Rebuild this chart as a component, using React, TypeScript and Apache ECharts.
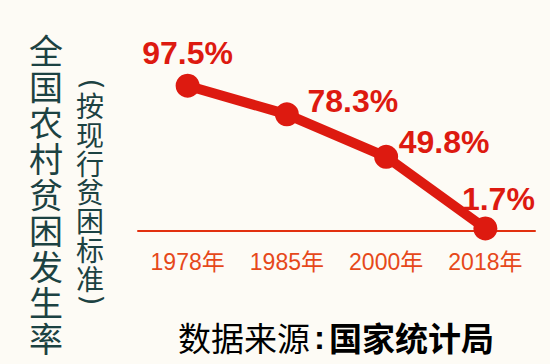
import React, { useEffect, useRef } from "react";
import * as echarts from "echarts";

const years = ["1978年", "1985年", "2000年", "2018年"];
const rates = [97.5, 78.3, 49.8, 1.7];
const rateLabels = ["97.5%", "78.3%", "49.8%", "1.7%"];
const labelOffsets = [
  [0, -33],
  [66, -13],
  [58, -15],
  [13, -29],
];
const titleChars = ["全", "国", "农", "村", "贫", "困", "发", "生", "率"];
const subtitleChars = ["按", "现", "行", "贫", "困", "标", "准"];
const sourceLabel = "数据来源";
const sourceName = "国家统计局";

const RED = "#dd1a10";

export default function App() {
  const ref = useRef<HTMLDivElement>(null);
  useEffect(() => {
    if (!ref.current) return;
    const chart = echarts.init(ref.current, null, { renderer: "svg" });
    chart.setOption({
      animation: false,
      backgroundColor: "#fdfbf5",
      grid: { left: 138, right: 15, top: 82, bottom: 133 },
      xAxis: {
        type: "category",
        data: years,
        boundaryGap: true,
        axisLine: { show: true, lineStyle: { color: "#e2300f", width: 2 } },
        axisTick: { show: false },
        axisLabel: {
          color: "#e6481a",
          fontSize: 23,
          fontFamily: "Liberation Sans, Noto Sans CJK SC",
          margin: 19,
        },
        splitLine: { show: false },
      },
      yAxis: {
        type: "value",
        min: 0,
        max: 100,
        show: false,
        splitLine: { show: false },
      },
      series: [
        {
          type: "line",
          data: rates.map((v, i) => ({
            value: v,
            label: {
              show: true,
              position: "inside",
              offset: labelOffsets[i],
              formatter: rateLabels[i],
            },
          })),
          symbol: "circle",
          symbolSize: 24,
          lineStyle: { color: RED, width: 10, cap: "round" },
          itemStyle: { color: RED },
          label: {
            show: true,
            color: RED,
            fontSize: 32,
            fontWeight: "bold",
            fontFamily: "Liberation Sans",
            align: "center",
            verticalAlign: "middle",
          },
          z: 3,
        },
      ],
      graphic: [
        {
          type: "text",
          x: 46,
          y: 32,
          style: {
            text: titleChars.join("\n"),
            fill: "#1c4242",
            fontSize: 34,
            lineHeight: 35.9,
            fontFamily: "Noto Sans CJK SC",
            align: "center",
            verticalAlign: "top",
          },
        },
        {
          type: "text",
          x: 90,
          y: 91,
          style: {
            text: subtitleChars.join("\n"),
            fill: "#1c4242",
            fontSize: 28,
            lineHeight: 28.7,
            fontFamily: "Noto Sans CJK SC",
            align: "center",
            verticalAlign: "top",
          },
        },
        {
          type: "text",
          x: 91,
          y: 84,
          rotation: -Math.PI / 2,
          style: {
            text: "(",
            fill: "#1c4242",
            fontSize: 28,
            fontFamily: "DejaVu Sans",
            align: "center",
            verticalAlign: "middle",
          },
        },
        {
          type: "text",
          x: 91,
          y: 300,
          rotation: -Math.PI / 2,
          style: {
            text: ")",
            fill: "#1c4242",
            fontSize: 28,
            fontFamily: "DejaVu Sans",
            align: "center",
            verticalAlign: "middle",
          },
        },
        {
          type: "text",
          x: 336,
          y: 337,
          style: {
            text: "{a|" + sourceLabel + "}{c|:}{b|" + sourceName + "}",
            align: "center",
            verticalAlign: "middle",
            rich: {
              a: {
                fontSize: 33,
                fontFamily: "Noto Sans CJK SC",
                color: "#222222",
              },
              c: {
                fontSize: 33,
                fontWeight: "bold",
                fontFamily: "Liberation Sans",
                color: "#111111",
                padding: [0, 4, 0, 4],
              },
              b: {
                fontSize: 33,
                fontWeight: "bold",
                fontFamily: "Noto Sans CJK SC",
                color: "#111111",
              },
            },
          },
        },
      ],
    });
    return () => chart.dispose();
  }, []);
  return (
    <div
      ref={ref}
      style={{ position: "fixed", left: 0, top: 0, width: 550, height: 364 }}
    />
  );
}
